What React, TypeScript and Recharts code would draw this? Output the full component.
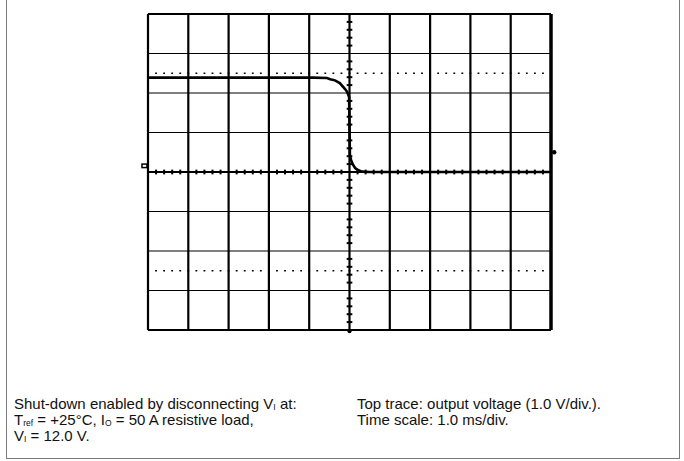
import React from "react";
import { LineChart, Line, XAxis, YAxis, ReferenceLine, ReferenceDot } from "recharts";

// time in ms (1.0 ms/div), voltage in V (1.0 V/div)
const timeMs = [-5, -3, -1.5, -0.9, -0.56, -0.48, -0.36, -0.24, -0.11, -0.06, -0.01, 0.01, 0.04, 0.09, 0.14, 0.21, 0.31, 0.5, 2, 5];
const outputV = [2.39, 2.39, 2.39, 2.39, 2.38, 2.35, 2.32, 2.25, 2.1, 2.03, 1.9, 0.43, 0.3, 0.18, 0.1, 0.05, 0.01, 0, 0, 0];

const xGrid = [-5, -4, -3, -2, -1, 0, 1, 2, 3, 4, 5];
const yGrid = [-4, -3, -2, -1, 0, 1, 2, 3, 4];
const dottedLevels = [2.5, -2.5];
const minorX = Array.from({ length: 51 }, (_, i) => Math.round((-5 + i * 0.2) * 100) / 100).filter((v) => Math.abs(v - Math.round(v)) > 0.01);
const minorY = Array.from({ length: 41 }, (_, i) => Math.round((-4 + i * 0.2) * 100) / 100).filter((v) => Math.abs(v - Math.round(v)) > 0.01);

const data = timeMs.map((t, i) => ({ t, v: outputV[i] }));

const textStyle: React.CSSProperties = {
  position: "absolute",
  fontFamily: "'Liberation Sans', Arial, sans-serif",
  fontSize: 15,
  lineHeight: "16px",
  color: "#111",
  whiteSpace: "nowrap",
};
const subStyle: React.CSSProperties = { fontSize: 8.5, verticalAlign: "-1px", lineHeight: 0 };

const GroundMarker = (props: any) => (
  <g>
    <rect x={props.cx - 4} y={props.cy - 2} width={5} height={3.5} fill="none" stroke="#000" strokeWidth={1.5} />
  </g>
);

export default function App() {
  return (
    <div style={{ position: "absolute", left: 0, top: 0, width: 684, height: 461, background: "#fff", overflow: "hidden" }}>
      <div
        style={{
          position: "absolute",
          left: 6,
          top: -4,
          width: 674,
          height: 463,
          border: "1.5px solid #7a7a7a",
          boxSizing: "border-box",
        }}
      />
      <div style={{ position: "absolute", left: 0, top: 0 }}>
        <LineChart width={684} height={461} data={data} margin={{ top: 14, right: 133, bottom: 131, left: 148 }}>
          <XAxis dataKey="t" type="number" domain={[-5, 5]} hide allowDataOverflow />
          <YAxis type="number" domain={[-4, 4]} hide allowDataOverflow />
          {yGrid.map((y) => (
            <ReferenceLine
              key={"h" + y}
              y={y}
              stroke="#000"
              strokeWidth={y === 0 ? 2 : Math.abs(y) === 4 ? 2.2 : 1.2}
            />
          ))}
          {xGrid.map((x) => (
            <ReferenceLine key={"v" + x} x={x} stroke="#000" strokeWidth={x === 5 ? 3.5 : 2.2} />
          ))}
          {dottedLevels.map((y) => (
            <ReferenceLine
              key={"d" + y}
              y={y}
              stroke="#000"
              strokeWidth={1.6}
              strokeDasharray="1.8 6.26"
              strokeDashoffset={0.9}
            />
          ))}
          {minorX.map((x) => (
            <ReferenceLine
              key={"mx" + x}
              segment={[
                { x, y: -0.06 },
                { x, y: 0.06 },
              ]}
              stroke="#000"
              strokeWidth={2}
            />
          ))}
          {minorY.map((y) => (
            <ReferenceLine
              key={"my" + y}
              segment={[
                { x: -0.07, y },
                { x: 0.07, y },
              ]}
              stroke="#000"
              strokeWidth={2}
            />
          ))}
          <Line
            dataKey="v"
            type="linear"
            stroke="#000"
            strokeWidth={2.6}
            dot={false}
            isAnimationActive={false}
          />
          <ReferenceDot x={-5.05} y={0.15} ifOverflow="visible" shape={<GroundMarker />} />
          <ReferenceDot x={5.08} y={0.5} r={2.2} fill="#000" stroke="none" ifOverflow="visible" />
          <ReferenceDot x={0} y={-4.03} r={2} fill="#000" stroke="none" ifOverflow="visible" />
        </LineChart>
      </div>
      <div style={{ ...textStyle, left: 14, top: 396 }}>
        Shut-down enabled by disconnecting V<sub style={subStyle}>I</sub> at:
        <br />
        T<sub style={subStyle}>ref</sub> = +25°C, I<sub style={subStyle}>O</sub> = 50 A resistive load,
        <br />
        V<sub style={subStyle}>I</sub> = 12.0 V.
      </div>
      <div style={{ ...textStyle, left: 357, top: 396 }}>
        Top trace: output voltage (1.0 V/div.).
        <br />
        Time scale: 1.0 ms/div.
      </div>
    </div>
  );
}
